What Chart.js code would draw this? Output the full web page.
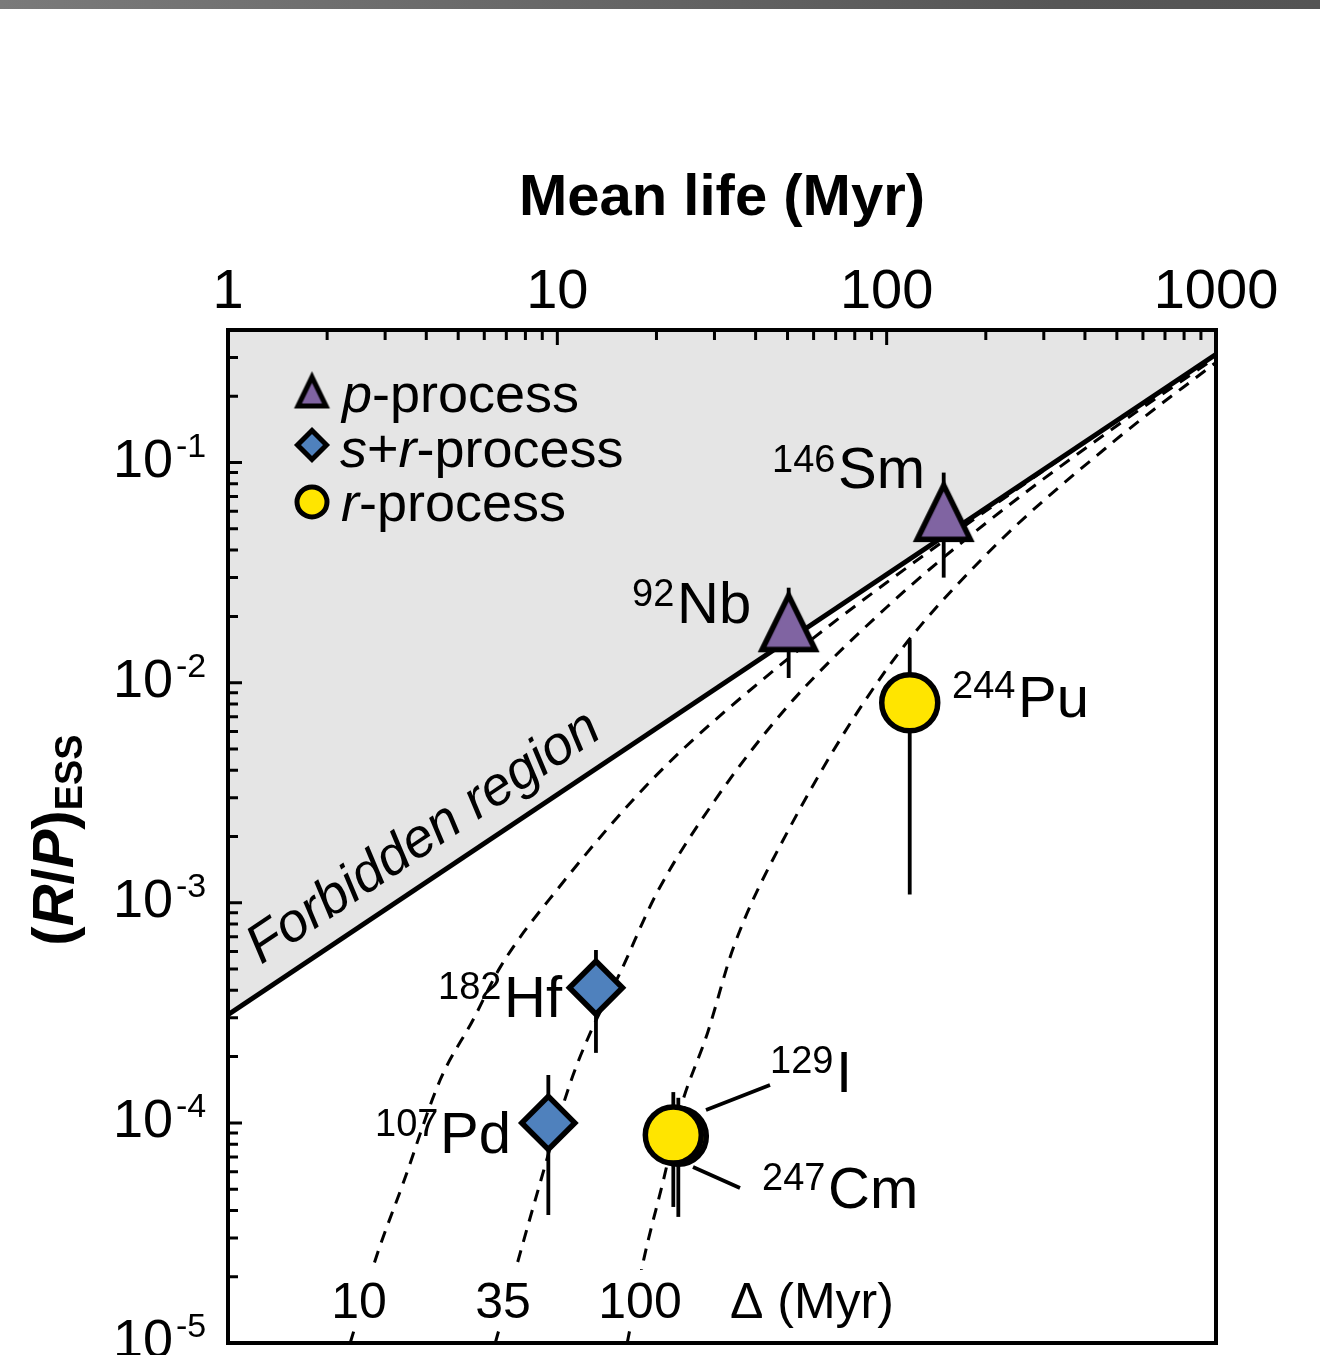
<!DOCTYPE html>
<html><head><meta charset="utf-8">
<script src="https://cdn.jsdelivr.net/npm/chart.js@4.4.1/dist/chart.umd.min.js"></script>
<style>
html,body{margin:0;padding:0;background:#fff;overflow:hidden;}
#wrap{position:absolute;left:0;top:0;width:1320px;height:1355px;}
#c{display:block;width:1320px;height:1355px;}
#bar{position:absolute;left:0;top:0;width:1320px;height:9px;background:linear-gradient(to right,#7a7a7a,#666 45%,#565656 80%,#545454);}
</style></head><body>
<div id="wrap"><canvas id="c" width="1320" height="1355"></canvas></div>
<div id="bar"></div>
<script>
// ---------------- data ----------------
const isoSup   = ['146', '92', '244', '182', '107', '129', '247'];
const isoName  = ['Sm', 'Nb', 'Pu', 'Hf', 'Pd', 'I', 'Cm'];
const isoProc  = ['p', 'p', 'r', 'sr', 'sr', 'r', 'r'];
const meanLife = [149, 50.4, 117.5, 13.1, 9.39, 22.5, 23.3];     // Myr
const ratioESS = [0.0605, 0.0191, 0.0081, 4.11e-4, 1.0e-4, 8.8e-5, 8.7e-5];
const errLow   = [0.030, 0.0105, 1.09e-3, 2.08e-4, 3.82e-5, 4.15e-5, 3.74e-5];
const errHigh  = [0.090, 0.027, 0.0157, 6.1e-4, 1.65e-4, 1.38e-4, 1.30e-4];

// forbidden-region boundary (steady state limit)
const limitTau   = [1, 1000];
const limitRatio = [3.1e-4, 0.31];

// dashed decay curves, labelled by delay Δ (Myr)
const deltaLabels = ['10', '35', '100'];
const curveTau = [
  [2.35, 2.82, 3.40, 4.41, 5.55, 6.71, 10, 20, 50, 100, 300, 1000],
  [6.48, 8.45, 10.95, 12.6, 15.5, 20, 30, 50, 100, 200, 500, 1000],
  [16.3, 18.3, 21.0, 23.6, 28.6, 34.3, 50, 100, 200, 500, 1000]
];
const curveRatio = [
  [1.0e-5, 2.46e-5, 5.3e-5, 1.57e-4, 2.94e-4, 5.1e-4, 1.15e-3, 3.8e-3, 0.0128, 0.0285, 0.092, 0.31],
  [1.0e-5, 4.15e-5, 1.52e-4, 2.57e-4, 4.8e-4, 1.1e-3, 2.9e-3, 7.8e-3, 0.022, 0.053, 0.147, 0.30],
  [1.0e-5, 2.4e-5, 5.5e-5, 1.15e-4, 2.57e-4, 6.3e-4, 2.1e-3, 0.0115, 0.038, 0.128, 0.285]
];

// axes
const xMin = 1, xMax = 1000, yMin = 1e-5, yMax = 0.4;
const xMajorTicks = [1, 10, 100, 1000];
const xTickLabels = ['1', '10', '100', '1000'];
const yMajorTicks = [1e-5, 1e-4, 1e-3, 1e-2, 1e-1];
const yTickExp    = ['-5', '-4', '-3', '-2', '-1'];
const minorSig    = [2, 3, 4, 5, 6, 7, 8, 9];

const procColor = {p: '#8064A2', sr: '#4F81BD', r: '#FFE500'};
const FONT = '"Liberation Sans", Arial, Helvetica, sans-serif';

// ---------------- marker images ----------------
function triangleCanvas(outer, lw, fill) {
  const S = Math.ceil(outer + 10);
  const c = document.createElement('canvas');
  c.width = S; c.height = S;
  const g = c.getContext('2d');
  const cx = S / 2, cy = S / 2;
  const h = outer - 1.62 * lw, w = outer - 1.8 * lw;
  const apexY = cy - h / 2 + 0.31 * lw;
  g.beginPath();
  g.moveTo(cx, apexY);
  g.lineTo(cx + w / 2, apexY + h);
  g.lineTo(cx - w / 2, apexY + h);
  g.closePath();
  g.fillStyle = fill; g.fill();
  g.lineWidth = lw; g.lineJoin = 'miter'; g.miterLimit = 10; g.strokeStyle = '#000'; g.stroke();
  return c;
}
const triBig = triangleCanvas(63, 5.5, procColor.p);
const triSmall = triangleCanvas(37, 5, procColor.p);

// ---------------- datasets ----------------
const drawOrder = [1, 1, 1, 1, 1, 0, 2];
const datasets = [];
meanLife.forEach((t, i) => {
  const pr = isoProc[i];
  const ds = {
    type: 'scatter', label: isoSup[i] + isoName[i],
    data: [{x: t, y: ratioESS[i]}],
    pointBackgroundColor: procColor[pr], pointBorderColor: '#000', pointBorderWidth: 5.5,
    backgroundColor: procColor[pr], borderColor: '#000', borderWidth: 5.5,
    order: drawOrder[i]
  };
  if (pr === 'p') { ds.pointStyle = triBig; ds.pointRadius = 30; ds.pointBorderWidth = 0; ds.borderWidth = 0; }
  else if (pr === 'sr') { ds.pointStyle = 'rectRot'; ds.pointRadius = 26.5; }
  else { ds.pointStyle = 'circle'; ds.pointRadius = 28; }
  datasets.push(ds);
});
meanLife.forEach((t, i) => {
  datasets.push({
    type: 'line', label: 'err' + i,
    data: [{x: t, y: errLow[i]}, {x: t, y: errHigh[i]}],
    borderColor: '#000', borderWidth: 3.8, pointRadius: 0, fill: false, order: 5
  });
});
curveTau.forEach((arr, k) => {
  datasets.push({
    type: 'line', label: 'Δ=' + deltaLabels[k],
    data: arr.map((t, j) => ({x: t, y: curveRatio[k][j]})),
    borderColor: '#000', borderWidth: 3, borderDash: [12, 9], pointRadius: 0,
    fill: false, cubicInterpolationMode: 'monotone', order: 8
  });
});
datasets.push({
  type: 'line', label: 'limit',
  data: limitTau.map((t, j) => ({x: t, y: limitRatio[j]})),
  borderColor: '#000', borderWidth: 4.8, pointRadius: 0,
  fill: 'end', backgroundColor: '#e5e5e5', order: 10
});

// ---------------- text helpers ----------------
function runs(ctx, x, y, parts) {
  let cx = x;
  parts.forEach(p => {
    ctx.font = p.f;
    ctx.fillText(p.t, cx, y + (p.dy || 0));
    cx += ctx.measureText(p.t).width;
  });
  return cx;
}
function runsWidth(ctx, parts) {
  let w = 0;
  parts.forEach(p => { ctx.font = p.f; w += ctx.measureText(p.t).width; });
  return w;
}

const labelPos = [
  {sx: 772, sb: 472, mx: 838, mb: 488},
  {sx: 632, sb: 606, mx: 677, mb: 623},
  {sx: 952, sb: 698, mx: 1018, mb: 717},
  {sx: 438, sb: 999, mx: 504, mb: 1017},
  {sx: 375, sb: 1136, mx: 440, mb: 1153},
  {sx: 770, sb: 1073, mx: 836, mb: 1092},
  {sx: 762, sb: 1190, mx: 828, mb: 1208}
];

const decor = {
  id: 'decor',
  afterDraw(chart) {
    const ctx = chart.ctx, a = chart.chartArea;
    const xs = chart.scales.x, ys = chart.scales.y;
    ctx.save();

    // Δ labels at bottom on white boxes
    ctx.font = '50px ' + FONT;
    const dl = [[deltaLabels[0], 359], [deltaLabels[1], 503], [deltaLabels[2], 640]];
    ctx.fillStyle = '#fff';
    dl.forEach(([t, x]) => {
      const w = ctx.measureText(t).width;
      ctx.fillRect(x - w / 2 - 4, 1270, w + 8, 54);
    });
    ctx.fillStyle = '#000';
    ctx.textAlign = 'center';
    dl.forEach(([t, x]) => ctx.fillText(t, x, 1318));
    ctx.textAlign = 'left';
    ctx.fillText('Δ (Myr)', 730, 1318);

    ctx.strokeStyle = '#000';
    ctx.lineWidth = 3;
    ctx.beginPath();
    xMajorTicks.forEach((d, k) => {
      const px = xs.getPixelForValue(d);
      if (k > 0 && k < xMajorTicks.length - 1) { ctx.moveTo(px, a.top); ctx.lineTo(px, a.top + 15); }
      if (k < xMajorTicks.length - 1) minorSig.forEach(s => {
        const q = xs.getPixelForValue(d * s);
        ctx.moveTo(q, a.top); ctx.lineTo(q, a.top + 10);
      });
    });
    yMajorTicks.forEach((d) => {
      const py = ys.getPixelForValue(d);
      ctx.moveTo(a.left, py); ctx.lineTo(a.left + 14, py);
      minorSig.forEach(s => {
        const v = d * s;
        if (v < yMax) { const q = ys.getPixelForValue(v); ctx.moveTo(a.left, q); ctx.lineTo(a.left + 10, q); }
      });
    });
    ctx.stroke();
    ctx.lineWidth = 4;
    ctx.strokeRect(a.left, a.top, a.right - a.left, a.bottom - a.top);

    ctx.textAlign = 'center'; ctx.textBaseline = 'alphabetic';
    ctx.font = '56px ' + FONT;
    xMajorTicks.forEach((d, k) => {
      ctx.fillText(xTickLabels[k], xs.getPixelForValue(d), 308);
    });
    yMajorTicks.forEach((d, k) => {
      const py = ys.getPixelForValue(d);
      ctx.textAlign = 'right'; ctx.font = '54px ' + FONT;
      ctx.fillText('10', 173, py + 14);
      ctx.textAlign = 'left'; ctx.font = '34px ' + FONT;
      ctx.fillText(yTickExp[k], 176, py - 6);
    });

    ctx.textAlign = 'center';
    ctx.font = 'bold 58px ' + FONT;
    ctx.fillText('Mean life (Myr)', 722, 215);
    ctx.save();
    ctx.translate(73, 840);
    ctx.rotate(-Math.PI / 2);
    ctx.textAlign = 'left';
    const yt = [
      {t: '(', f: 'bold 58px ' + FONT},
      {t: 'R', f: 'italic bold 58px ' + FONT},
      {t: '/', f: 'bold 58px ' + FONT},
      {t: 'P', f: 'italic bold 58px ' + FONT},
      {t: ')', f: 'bold 58px ' + FONT},
      {t: 'ESS', f: 'bold 38px ' + FONT, dy: 9}
    ];
    runs(ctx, -runsWidth(ctx, yt) / 2, 0, yt);
    ctx.restore();

    // legend
    ctx.textAlign = 'left';
    ctx.drawImage(triSmall, 312 - triSmall.width / 2, 390 - triSmall.height / 2);
    ctx.lineWidth = 5;
    ctx.lineJoin = 'miter';
    ctx.beginPath();
    ctx.moveTo(312 - 14.5, 445); ctx.lineTo(312, 430.5); ctx.lineTo(312 + 14.5, 445); ctx.lineTo(312, 459.5); ctx.closePath();
    ctx.fillStyle = procColor.sr; ctx.fill(); ctx.stroke();
    ctx.beginPath(); ctx.arc(312, 502, 15, 0, Math.PI * 2);
    ctx.fillStyle = procColor.r; ctx.fill(); ctx.stroke();
    ctx.fillStyle = '#000';
    const LF = '54px ' + FONT, LI = 'italic 54px ' + FONT;
    runs(ctx, 342, 412, [{t: 'p', f: LI}, {t: '-process', f: LF}]);
    runs(ctx, 340, 467, [{t: 's', f: LI}, {t: '+', f: LF}, {t: 'r', f: LI}, {t: '-process', f: LF}]);
    runs(ctx, 341, 521, [{t: 'r', f: LI}, {t: '-process', f: LF}]);

    // isotope labels
    labelPos.forEach((p, i) => {
      ctx.font = '38px ' + FONT; ctx.fillText(isoSup[i], p.sx, p.sb);
      ctx.font = '58px ' + FONT; ctx.fillText(isoName[i], p.mx, p.mb);
    });
    ctx.lineWidth = 3.8;
    ctx.beginPath();
    ctx.moveTo(706, 1110); ctx.lineTo(770, 1085);
    ctx.moveTo(693, 1167); ctx.lineTo(740, 1188);
    ctx.stroke();

    // Forbidden region text along the boundary
    const x0 = xs.getPixelForValue(limitTau[0]), y0 = ys.getPixelForValue(limitRatio[0]);
    const x1 = xs.getPixelForValue(limitTau[1]), y1 = ys.getPixelForValue(limitRatio[1]);
    const ang = Math.atan2(y1 - y0, x1 - x0);
    ctx.save();
    ctx.translate(261, 965);
    ctx.rotate(ang);
    ctx.font = 'italic 54.5px ' + FONT;
    ctx.fillText('Forbidden region', 0, 0);
    ctx.restore();

    ctx.restore();
  }
};

new Chart(document.getElementById('c'), {
  type: 'scatter',
  data: {datasets},
  options: {
    responsive: false, maintainAspectRatio: false, animation: false, devicePixelRatio: 1,
    layout: {autoPadding: false, padding: {left: 228, top: 330, right: 104, bottom: 12}},
    plugins: {legend: {display: false}, tooltip: {enabled: false}, filler: {drawTime: 'beforeDatasetsDraw'}},
    scales: {
      x: {type: 'logarithmic', min: xMin, max: xMax, display: false},
      y: {type: 'logarithmic', min: yMin, max: yMax, display: false}
    }
  },
  plugins: [decor]
});
</script>
</body></html>
